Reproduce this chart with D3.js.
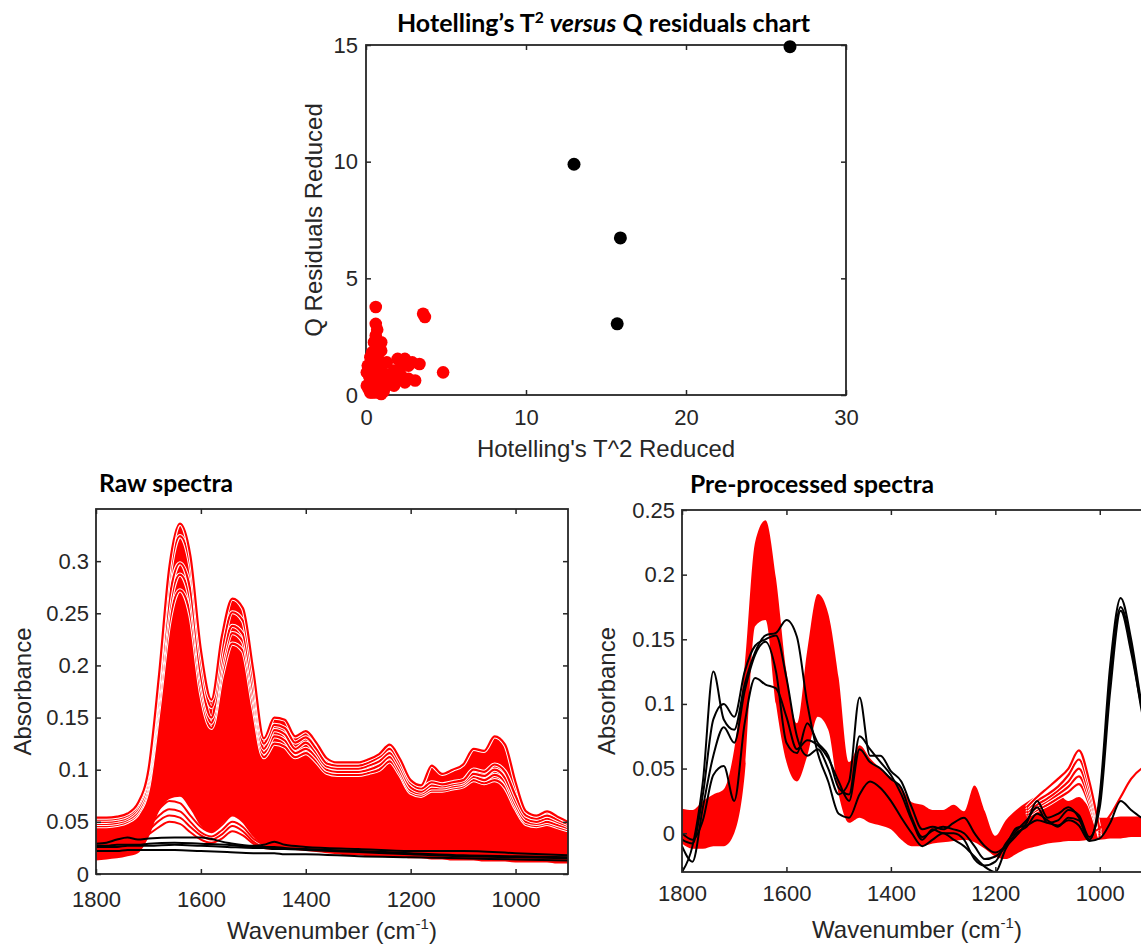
<!DOCTYPE html>
<html>
<head>
<meta charset="utf-8">
<script src="https://cdn.jsdelivr.net/npm/d3@7"></script>
<style>
body { margin: 0; background: #fff; }
svg { display: block; background: #fff; }
.lbl { font-family: "Liberation Sans", Arial, sans-serif; fill: #262626; }
.ttl { font-family: Lato, "Open Sans", sans-serif; font-weight: bold; fill: #000; font-size: 24px; }
</style>
</head>
<body>
<svg width="1141" height="947"></svg>
<script>
// ---- scatter: Hotelling's T2 vs Q residuals ----
var redT2 = [0.61,3.57,3.68,4.82,0.61,0.61,0.73,0.95,0.27,0.16,0.05,0.27,0.61,1.07,1.75,1.52,1.98,2.43,2.89,3.34,2.66,1.30,0.84,1.41,2.20,2.66,3.07,2.43,1.86,0.50,0.39,1.07,0.50,0.73,0.39,0.95,0.50,0.27,0.16,1.30,1.75,2.09,0.05,0.11,0.39,0.95,0.73,0.30,0.50,0.80,1.10,0.20,0.60,0.90,0.40,1.20,0.70,0.60];
var redQ  = [3.77,3.48,3.34,0.97,3.05,2.55,2.12,1.90,1.62,1.12,0.40,0.11,0.11,0.26,0.40,0.69,1.55,1.55,1.40,1.33,1.26,1.40,0.97,0.83,0.83,0.69,0.62,0.54,0.62,0.54,0.76,0.69,1.33,1.62,1.83,2.26,2.26,0.62,0.26,0.40,1.05,1.12,0.97,1.26,0.11,0.04,0.40,0.30,0.20,0.50,0.15,0.80,1.30,1.10,1.50,0.90,2.80,2.35];
var blackT2 = [26.5, 13.0, 15.9, 15.7];
var blackQ  = [14.93, 9.89, 6.73, 3.05];
var scatterXTicks = [0, 10, 20, 30];
var scatterYTicks = [0, 5, 10, 15];

// ---- spectra (wavenumber grid, cm-1) ----
var wn = [1800,1780,1760,1740,1720,1700,1680,1660,1640,1620,1600,1580,1560,1540,1520,1500,1480,1460,1440,1420,1400,1380,1360,1340,1320,1300,1280,1260,1240,1220,1200,1180,1160,1140,1120,1100,1080,1060,1040,1020,1000,980,960,940,920,900];

// raw spectra: red band envelope + visible top lines
var rawUpper = [0.054,0.054,0.055,0.058,0.068,0.100,0.190,0.295,0.336,0.305,0.215,0.167,0.228,0.264,0.255,0.195,0.130,0.150,0.148,0.132,0.137,0.126,0.111,0.107,0.107,0.107,0.110,0.115,0.124,0.110,0.090,0.085,0.104,0.096,0.100,0.105,0.120,0.118,0.132,0.124,0.088,0.060,0.056,0.060,0.055,0.050];
var rawLower = [0.013,0.014,0.015,0.017,0.020,0.035,0.060,0.072,0.074,0.062,0.046,0.040,0.048,0.056,0.050,0.036,0.028,0.026,0.024,0.023,0.022,0.021,0.020,0.019,0.018,0.018,0.017,0.017,0.016,0.016,0.015,0.015,0.014,0.014,0.013,0.013,0.013,0.012,0.012,0.012,0.011,0.011,0.011,0.011,0.010,0.010];
var rawB = [0.052,0.052,0.053,0.056,0.066,0.096,0.185,0.285,0.324,0.295,0.205,0.160,0.215,0.251,0.243,0.185,0.125,0.143,0.140,0.126,0.131,0.120,0.106,0.104,0.104,0.104,0.107,0.112,0.120,0.106,0.087,0.082,0.088,0.086,0.088,0.090,0.100,0.098,0.105,0.098,0.075,0.056,0.053,0.056,0.052,0.048];
var rawC = [0.050,0.050,0.051,0.054,0.063,0.092,0.175,0.265,0.298,0.272,0.190,0.150,0.205,0.238,0.230,0.175,0.120,0.138,0.134,0.120,0.126,0.116,0.103,0.101,0.101,0.101,0.104,0.108,0.116,0.102,0.083,0.079,0.085,0.084,0.086,0.088,0.096,0.094,0.100,0.092,0.070,0.053,0.050,0.053,0.050,0.046];
var rawD = [0.048,0.048,0.049,0.052,0.060,0.088,0.168,0.255,0.287,0.262,0.183,0.145,0.198,0.231,0.223,0.168,0.116,0.132,0.128,0.116,0.120,0.112,0.100,0.098,0.098,0.098,0.100,0.104,0.112,0.098,0.080,0.077,0.082,0.082,0.084,0.086,0.093,0.090,0.095,0.088,0.066,0.050,0.048,0.050,0.047,0.044];
var rawE = [0.046,0.046,0.047,0.050,0.058,0.084,0.160,0.242,0.272,0.248,0.174,0.140,0.190,0.221,0.214,0.160,0.112,0.125,0.122,0.112,0.116,0.108,0.097,0.095,0.095,0.095,0.097,0.100,0.108,0.095,0.078,0.075,0.080,0.080,0.082,0.084,0.090,0.087,0.090,0.083,0.063,0.048,0.046,0.048,0.045,0.042];

// low red spectra (small peaks under the band)
var lowWn = [1740,1720,1700,1680,1660,1640,1620,1600,1580,1560,1540,1520,1500,1480,1460];
var rawLow1 = [0.040,0.042,0.050,0.062,0.070,0.068,0.056,0.045,0.040,0.047,0.056,0.050,0.037,0.030,0.028];
var rawLow2 = [0.038,0.040,0.046,0.056,0.062,0.060,0.050,0.040,0.036,0.042,0.050,0.045,0.034,0.028,0.026];
var rawLow3 = [0.036,0.037,0.042,0.051,0.056,0.054,0.045,0.037,0.033,0.038,0.046,0.041,0.031,0.026,0.025];
var rawLow4 = [0.033,0.034,0.038,0.045,0.050,0.048,0.040,0.033,0.030,0.034,0.041,0.037,0.029,0.025,0.024];

// raw outlier spectra (black)
var rawBlackWn = [1800,1780,1760,1740,1720,1700,1650,1600,1550,1500,1480,1460,1440,1400,1300,1200,1100,1000,900];
var rawK1 = [0.029,0.030,0.033,0.035,0.033,0.034,0.035,0.035,0.030,0.027,0.028,0.031,0.028,0.026,0.024,0.022,0.022,0.020,0.018];
var rawK2 = [0.027,0.027,0.028,0.028,0.028,0.029,0.030,0.029,0.028,0.026,0.026,0.026,0.025,0.024,0.022,0.020,0.018,0.017,0.016];
var rawK3 = [0.026,0.026,0.026,0.027,0.027,0.027,0.028,0.027,0.026,0.025,0.025,0.024,0.024,0.023,0.021,0.019,0.017,0.016,0.015];
var rawK4 = [0.022,0.022,0.022,0.023,0.023,0.023,0.023,0.022,0.021,0.020,0.020,0.020,0.019,0.019,0.017,0.016,0.015,0.014,0.013];

// pre-processed spectra: red band envelope
var preUpper = [0.019,0.018,0.025,0.030,0.034,0.065,0.130,0.225,0.242,0.197,0.125,0.085,0.142,0.185,0.170,0.120,0.055,0.068,0.058,0.050,0.043,0.035,0.024,0.022,0.018,0.018,0.022,0.017,0.037,0.017,-0.002,0.010,0.018,0.024,0.028,0.025,0.030,0.025,0.028,0.020,0.012,0.012,0.013,0.013,0.013,0.012];
var preLower = [-0.008,-0.012,-0.012,-0.010,-0.010,0.000,0.045,0.160,0.165,0.100,0.055,0.040,0.060,0.090,0.080,0.030,0.008,0.012,0.008,0.006,0.003,-0.005,-0.010,-0.010,-0.008,-0.007,-0.006,-0.005,-0.007,-0.012,-0.018,-0.020,-0.016,-0.012,-0.010,-0.008,-0.007,-0.006,-0.006,-0.005,-0.005,-0.004,-0.004,-0.003,-0.003,-0.003];

// pre-processed separate red lines near 1030 cm-1
var preRedWn = [1140,1120,1100,1080,1060,1040,1020,1000];
var preR1 = [0.020,0.028,0.035,0.042,0.050,0.064,0.040,0.002];
var preR2 = [0.018,0.025,0.030,0.036,0.045,0.057,0.035,0.000];
var preR3 = [0.016,0.022,0.027,0.033,0.040,0.050,0.030,-0.002];
var preR4 = [0.014,0.020,0.025,0.030,0.036,0.044,0.026,-0.002];
var preR5 = [0.013,0.018,0.022,0.027,0.032,0.038,0.022,-0.003];
var preRiseWn = [1020,1000,980,960,940,920,900];
var preRise = [0.000,0.004,0.014,0.028,0.042,0.050,0.053];

// pre-processed outlier spectra (black)
var preK1 = [-0.030,-0.010,0.040,0.125,0.088,0.080,0.115,0.140,0.153,0.155,0.165,0.152,0.100,0.062,0.040,0.015,0.012,0.030,0.040,0.035,0.025,0.012,0.000,-0.010,-0.005,0.000,-0.005,-0.010,-0.018,-0.026,-0.030,-0.012,0.000,0.005,0.015,0.010,0.005,0.012,0.010,-0.005,0.030,0.130,0.182,0.150,0.100,0.060];
var preK2 = [-0.005,-0.008,0.030,0.088,0.100,0.090,0.125,0.145,0.150,0.153,0.120,0.075,0.060,0.065,0.050,0.030,0.040,0.105,0.060,0.060,0.048,0.040,0.020,0.003,0.005,0.003,0.008,0.012,0.000,-0.010,-0.015,-0.010,-0.002,0.008,0.025,0.012,0.015,0.020,0.012,-0.005,0.025,0.120,0.175,0.145,0.095,0.060];
var preK3 = [-0.010,-0.022,0.020,0.060,0.082,0.070,0.110,0.138,0.148,0.125,0.070,0.062,0.085,0.070,0.060,0.035,0.030,0.075,0.065,0.055,0.045,0.030,0.010,-0.005,0.003,0.000,0.000,-0.005,-0.020,-0.025,-0.022,-0.008,0.002,0.010,0.020,0.008,0.010,0.018,0.014,-0.003,0.020,0.110,0.172,0.140,0.098,0.065];
var preK4 = [0.000,-0.005,0.010,0.045,0.052,0.025,0.085,0.120,0.115,0.112,0.090,0.065,0.072,0.068,0.058,0.040,0.025,0.065,0.055,0.050,0.042,0.035,0.012,-0.003,0.002,0.005,0.003,0.000,-0.010,-0.020,-0.018,-0.010,0.004,0.006,0.010,0.008,0.006,0.010,0.006,-0.006,-0.004,0.008,0.025,0.018,0.012,0.008];

var wnTicks = [1800, 1600, 1400, 1200, 1000];
var rawYTicks = [0, 0.05, 0.1, 0.15, 0.2, 0.25, 0.3];
var preYTicks = [0, 0.05, 0.1, 0.15, 0.2, 0.25];

var RED = "#ff0000", AX = "#262626";
var svg = d3.select("svg");

function zip(xs, ys) {
    return xs.map(function(v, i) { return [v, ys[i]]; });
}

function panel(id, left, top, w, h) {
    var g = svg.append("g").attr("transform", "translate(" + left + "," + top + ")");
    svg.append("clipPath").attr("id", id).append("rect").attr("width", w).attr("height", h);
    return g;
}

// ticks inside on all four sides, box on top (matlab look)
function frame(g, x, y, w, h, xTicks, yTicks, xPad, yPad) {
    var fmt = function(d) { return String(d); };
    var axes = g.append("g");
    axes.append("g").attr("transform", "translate(0," + h + ")")
        .call(d3.axisBottom(x).tickValues(xTicks).tickSize(-5).tickSizeOuter(0).tickPadding(xPad).tickFormat(fmt));
    axes.append("g")
        .call(d3.axisTop(x).tickValues(xTicks).tickSize(-5).tickSizeOuter(0).tickFormat(""));
    axes.append("g")
        .call(d3.axisLeft(y).tickValues(yTicks).tickSize(-5).tickSizeOuter(0).tickPadding(yPad).tickFormat(fmt));
    axes.append("g").attr("transform", "translate(" + w + ",0)")
        .call(d3.axisRight(y).tickValues(yTicks).tickSize(-5).tickSizeOuter(0).tickFormat(""));
    axes.selectAll(".domain").remove();
    axes.selectAll("line").attr("stroke", AX).attr("stroke-width", 1.5);
    axes.selectAll("text").attr("fill", AX).attr("font-size", 22)
        .attr("font-family", '"Liberation Sans", Arial, sans-serif');
    g.append("rect").attr("width", w).attr("height", h)
        .attr("fill", "none").attr("stroke", AX).attr("stroke-width", 1.8);
}

function labels(g, w, h, xText, yText, xBase, yBase, sup) {
    var t = g.append("text").attr("class", "lbl").attr("font-size", 24)
        .attr("text-anchor", "middle").attr("x", w / 2).attr("y", h + xBase).text(xText);
    if (sup) {
        t.append("tspan").attr("font-size", 15).attr("dy", -10).text(sup);
        t.append("tspan").attr("dy", 10).text(")");
    }
    g.append("text").attr("class", "lbl").attr("font-size", 24)
        .attr("text-anchor", "middle")
        .attr("transform", "translate(" + yBase + "," + (h / 2) + ") rotate(-90)")
        .text(yText);
}

// ================= scatter =================
(function() {
    var w = 480, h = 350;
    var g = panel("clipS", 366, 45, w, h);
    var x = d3.scaleLinear().domain([0, 30]).range([0, w]);
    var y = d3.scaleLinear().domain([0, 15]).range([h, 0]);

    frame(g, x, y, w, h, scatterXTicks, scatterYTicks, 14, 8);

    g.selectAll(".red").data(zip(redT2, redQ)).enter().append("circle")
        .attr("cx", function(d) { return x(d[0]); })
        .attr("cy", function(d) { return y(d[1]); })
        .attr("r", 6.3).attr("fill", RED);
    g.selectAll(".blk").data(zip(blackT2, blackQ)).enter().append("circle")
        .attr("cx", function(d) { return x(d[0]); })
        .attr("cy", function(d) { return y(d[1]); })
        .attr("r", 6.5).attr("fill", "#000");

    labels(g, w, h, "Hotelling's T^2 Reduced", "Q Residuals Reduced", 62, -44);
})();

// ================= raw spectra =================
(function() {
    var w = 472, h = 365;
    var g = panel("clipR", 96, 509, w, h);
    var x = d3.scaleLinear().domain([1800, 900]).range([0, w]);
    var y = d3.scaleLinear().domain([0, 0.35]).range([h, 0]);
    var line = d3.line().x(function(d) { return x(d[0]); }).y(function(d) { return y(d[1]); }).curve(d3.curveMonotoneX);
    var area = d3.area().x(function(d, i) { return x(wn[i]); })
        .y0(function(d, i) { return y(rawLower[i]); })
        .y1(function(d, i) { return y(rawUpper[i]); })
        .curve(d3.curveMonotoneX);

    var plot = g.append("g").attr("clip-path", "url(#clipR)");
    plot.append("path").datum(rawUpper).attr("d", area).attr("fill", RED);

    [rawLow4, rawLow3, rawLow2, rawLow1].forEach(function(s) {
        plot.append("path").datum(zip(lowWn, s)).attr("d", line)
            .attr("fill", "none").attr("stroke", RED).attr("stroke-width", 2);
    });
    [rawE, rawD, rawC, rawB, rawUpper].forEach(function(s) {
        plot.append("path").datum(zip(wn, s)).attr("d", line)
            .attr("fill", "none").attr("stroke", "#fff").attr("stroke-width", 4.2);
        plot.append("path").datum(zip(wn, s)).attr("d", line)
            .attr("fill", "none").attr("stroke", RED).attr("stroke-width", 2.2);
    });
    [rawK4, rawK3, rawK2, rawK1].forEach(function(s) {
        plot.append("path").datum(zip(rawBlackWn, s)).attr("d", line)
            .attr("fill", "none").attr("stroke", "#000").attr("stroke-width", 2);
    });

    frame(g, x, y, w, h, wnTicks, rawYTicks, 17, 7);
    labels(g, w, h, "Wavenumber (cm", "Absorbance", 65, -65, "-1");
})();

// ================= pre-processed spectra =================
(function() {
    var w = 470, h = 362;
    var g = panel("clipP", 682, 510, w, h);
    var x = d3.scaleLinear().domain([1800, 900]).range([0, w]);
    var y = d3.scaleLinear().domain([-0.03, 0.25]).range([h, 0]);
    var line = d3.line().x(function(d) { return x(d[0]); }).y(function(d) { return y(d[1]); }).curve(d3.curveMonotoneX);
    var area = d3.area().x(function(d, i) { return x(wn[i]); })
        .y0(function(d, i) { return y(preLower[i]); })
        .y1(function(d, i) { return y(preUpper[i]); })
        .curve(d3.curveMonotoneX);

    var plot = g.append("g").attr("clip-path", "url(#clipP)");
    plot.append("path").datum(preUpper).attr("d", area).attr("fill", RED);

    [preR5, preR4, preR3, preR2, preR1].forEach(function(s) {
        plot.append("path").datum(zip(preRedWn, s)).attr("d", line)
            .attr("fill", "none").attr("stroke", "#fff").attr("stroke-width", 4);
        plot.append("path").datum(zip(preRedWn, s)).attr("d", line)
            .attr("fill", "none").attr("stroke", RED).attr("stroke-width", 2.2);
    });
    plot.append("path").datum(zip(preRiseWn, preRise)).attr("d", line)
        .attr("fill", "none").attr("stroke", RED).attr("stroke-width", 2.2);

    [preK4, preK3, preK2, preK1].forEach(function(s) {
        plot.append("path").datum(zip(wn, s)).attr("d", line)
            .attr("fill", "none").attr("stroke", "#000").attr("stroke-width", 2);
    });

    frame(g, x, y, w, h, wnTicks, preYTicks, 13, 7);
    labels(g, w, h, "Wavenumber (cm", "Absorbance", 66, -67, "-1");
})();

// ================= titles =================
var t1 = svg.append("text").attr("class", "ttl").attr("x", 397).attr("y", 32)
    .attr("textLength", 413).attr("lengthAdjust", "spacingAndGlyphs");
t1.append("tspan").text("Hotelling\u2019s T");
t1.append("tspan").attr("font-size", 15).attr("dy", -9).text("2");
t1.append("tspan").attr("dy", 9).text(" ");
t1.append("tspan").attr("font-style", "italic").text("versus");
t1.append("tspan").text(" Q residuals chart");

svg.append("text").attr("class", "ttl").attr("x", 99).attr("y", 492)
    .attr("textLength", 134).attr("lengthAdjust", "spacingAndGlyphs").text("Raw spectra");
svg.append("text").attr("class", "ttl").attr("x", 690).attr("y", 493)
    .attr("textLength", 244).attr("lengthAdjust", "spacingAndGlyphs").text("Pre-processed spectra");
</script>
</body>
</html>
